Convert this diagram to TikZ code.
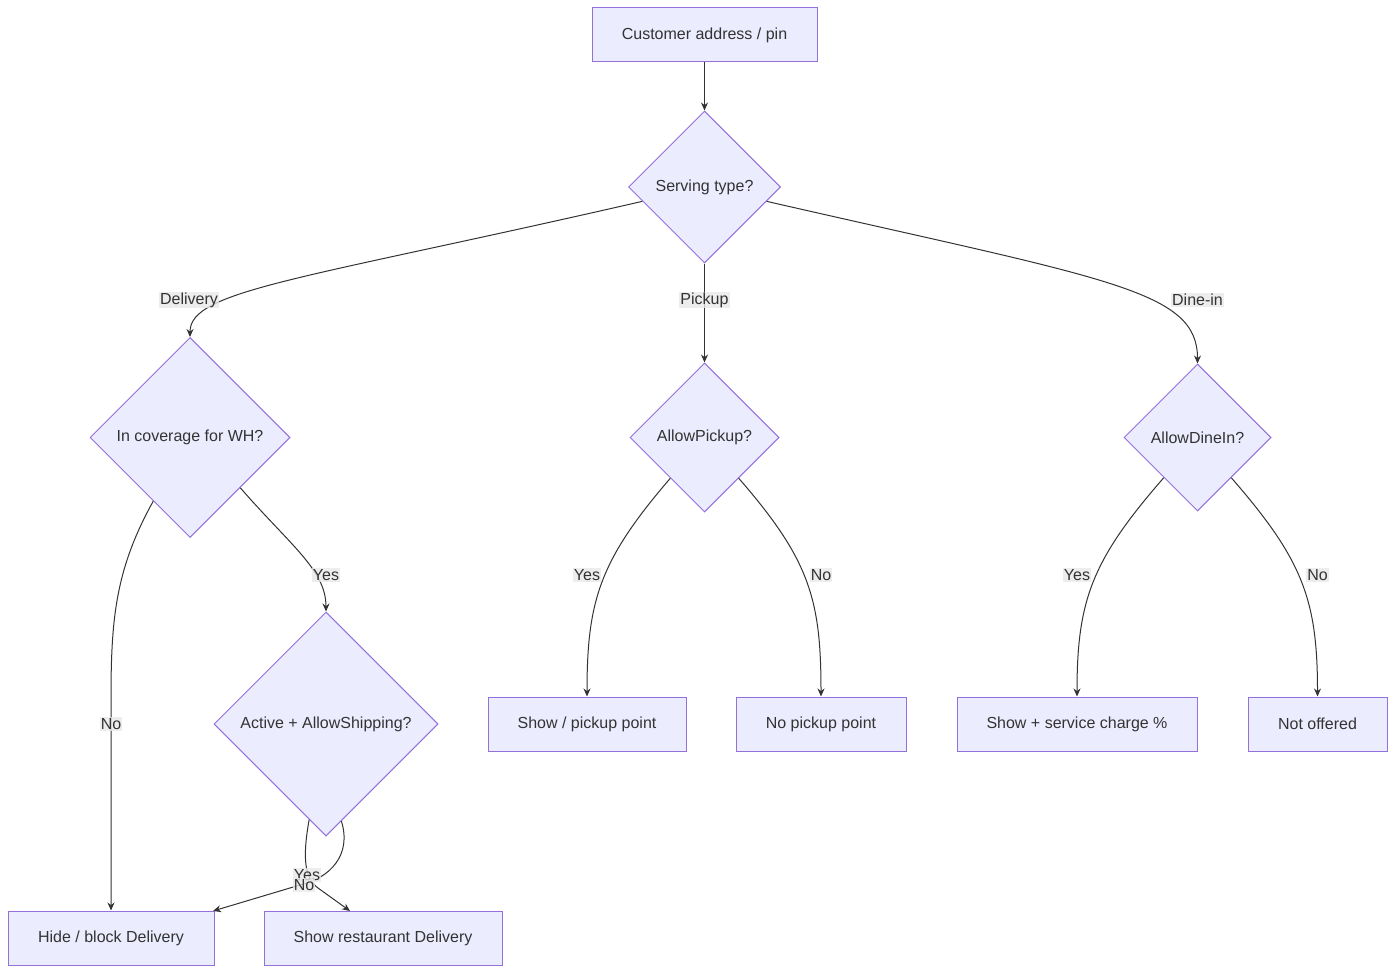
\documentclass[tikz,border=0pt]{standalone}
\usepackage{fontspec}
\setmainfont{Liberation Sans}
\usetikzlibrary{shapes.geometric,arrows.meta}
\definecolor{nfill}{HTML}{ECECFF}
\definecolor{nline}{HTML}{9370DB}
\definecolor{eline}{HTML}{333333}
\definecolor{lfill}{HTML}{E8E8E8}
\tikzset{
  box/.style={draw=nline,fill=nfill,line width=1pt,rectangle,inner sep=0pt,text=eline},
  dia/.style={draw=nline,fill=nfill,line width=1pt,diamond,inner sep=0pt,aspect=1,text=eline},
  edge/.style={draw=eline,line width=1pt,-{Stealth[length=8pt,width=7pt]}},
  lbl/.style={fill=lfill,fill opacity=0.8,text opacity=1,inner sep=1pt,text=eline},
}
\begin{document}
\begin{tikzpicture}[x=1pt,y=-1pt,font=\fontsize{16}{19}\selectfont]
\useasboundingbox (0,0) rectangle (1395,973);
\node[box,minimum width=225,minimum height=54] (a) at (704.5,35) {Customer address / pin};
\node[dia,minimum size=152] (serv) at (704.5,187) {Serving type?};
\node[dia,minimum size=200] (cov) at (190,437.5) {In coverage for WH?};
\node[dia,minimum size=224] (act) at (326,724) {Active + AllowShipping?};
\node[dia,minimum size=149] (pk) at (704.5,437.5) {AllowPickup?};
\node[dia,minimum size=147] (di) at (1197.5,437.5) {AllowDineIn?};
\node[box,minimum width=206,minimum height=54] (hide) at (111,938) {Hide / block Delivery};
\node[box,minimum width=238,minimum height=54] (rest) at (383,938) {Show restaurant Delivery};
\node[box,minimum width=198,minimum height=54] (spk) at (587,724) {Show / pickup point};
\node[box,minimum width=170,minimum height=54] (npk) at (821,724) {No pickup point};
\node[box,minimum width=240,minimum height=54] (ssc) at (1077,724) {Show + service charge \%};
\node[box,minimum width=139,minimum height=54] (nof) at (1317.5,724) {Not offered};

\draw[edge] (a) -- (serv);
\draw[edge] (serv.193.6) .. controls (300,280) and (190,290) .. (cov.north);
\draw[edge] (serv) -- (pk);
\draw[edge] (serv.-13.4) .. controls (1110,280) and (1197.5,290) .. (di.north);
\draw[edge] (cov.240) .. controls (115,570) and (111,620) .. (111,700) -- (hide.north -| 111,0);
\draw[edge] (cov.-45.6) .. controls (290,545) and (326,570) .. (act.north);
\draw[edge] (act.279) .. controls (352,855) and (330,878) .. (300,885) -- (213,911);
\draw[edge] (act.260.7) .. controls (302,860) and (305,878) .. (318,888) -- (350,911);
\draw[edge] (pk.230) .. controls (600,560) and (587,600) .. (spk.north);
\draw[edge] (pk.310) .. controls (810,560) and (821,600) .. (npk.north);
\draw[edge] (di.230) .. controls (1092,560) and (1077,600) .. (ssc.north);
\draw[edge] (di.310) .. controls (1303,560) and (1317.5,600) .. (nof.north);

\node[lbl] (l1) at (189,300) {Delivery};
\node[lbl] (l2) at (704.5,300) {Pickup};
\node[lbl] (l3) at (1197.5,300) {Dine-in};
\node[lbl] (l4) at (111,724) {No};
\node[lbl] (l5) at (326,575) {Yes};
\node[lbl] (l6) at (307,875) {Yes};
\node[lbl] (l7) at (304,885) {No};
\node[lbl] (l8) at (587,575) {Yes};
\node[lbl] (l9) at (821,575) {No};
\node[lbl] (l10) at (1077,575) {Yes};
\node[lbl] (l11) at (1317.5,575) {No};
\end{tikzpicture}
\end{document}
